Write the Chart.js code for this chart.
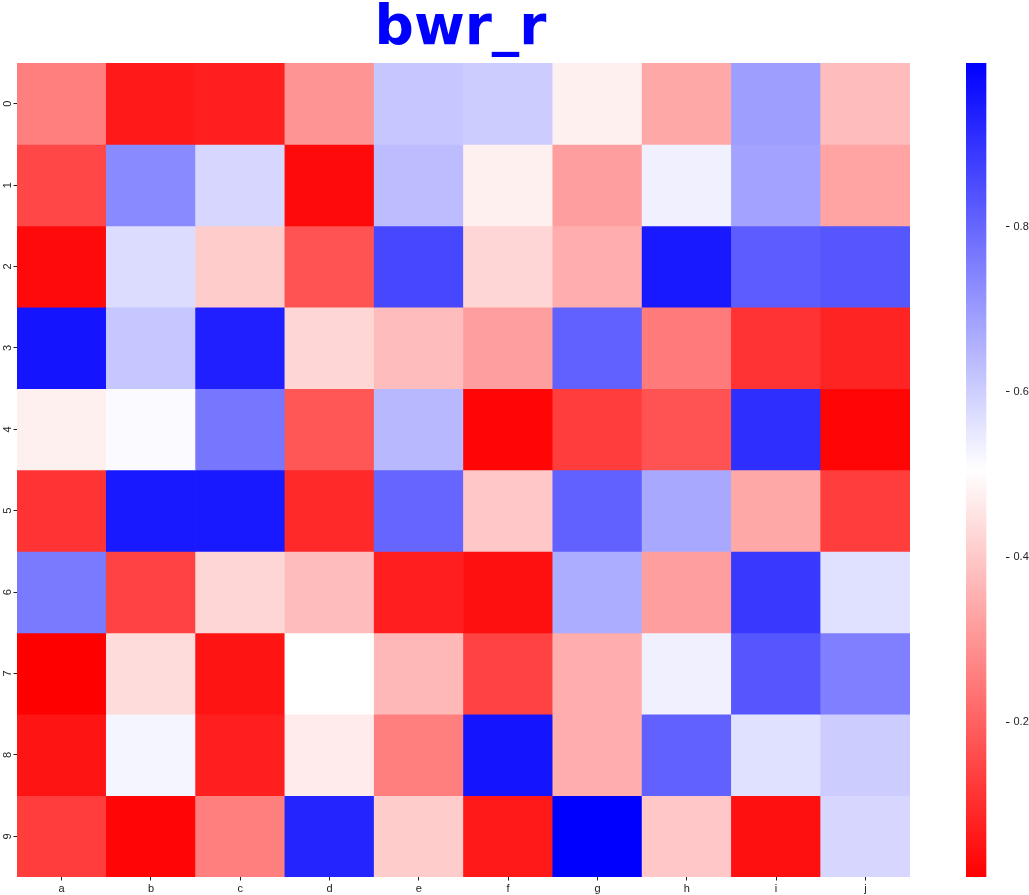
<!DOCTYPE html>
<html>
<head>
<meta charset="utf-8">
<script src="https://cdn.jsdelivr.net/npm/chart.js@4.4.1/dist/chart.umd.min.js"></script>
<style>
  html, body { margin: 0; padding: 0; background: #fff; width: 1029px; height: 895px; overflow: hidden; }
  #main { position: absolute; left: 0; top: 0; }
  #cbar { position: absolute; left: 940px; top: 0; }
</style>
</head>
<body>
<canvas id="main" width="927" height="895"></canvas>
<canvas id="cbar" width="89" height="895"></canvas>
<script>
// ---- data ----
const xLabels = ['a', 'b', 'c', 'd', 'e', 'f', 'g', 'h', 'i', 'j'];
const yLabels = ['0', '1', '2', '3', '4', '5', '6', '7', '8', '9'];
const row0 = [0.259, 0.062, 0.072, 0.299, 0.614, 0.604, 0.476, 0.338, 0.693, 0.377];
const row1 = [0.151, 0.732, 0.584, 0.033, 0.634, 0.476, 0.318, 0.535, 0.683, 0.328];
const row2 = [0.033, 0.574, 0.407, 0.171, 0.860, 0.427, 0.348, 0.949, 0.821, 0.831];
const row3 = [0.959, 0.614, 0.939, 0.427, 0.377, 0.318, 0.811, 0.249, 0.112, 0.082];
const row4 = [0.476, 0.515, 0.771, 0.180, 0.643, 0.023, 0.131, 0.171, 0.909, 0.023];
const row5 = [0.112, 0.949, 0.949, 0.092, 0.801, 0.397, 0.811, 0.673, 0.338, 0.131];
const row6 = [0.762, 0.141, 0.427, 0.377, 0.072, 0.043, 0.663, 0.318, 0.890, 0.565];
const row7 = [0.013, 0.437, 0.052, 0.506, 0.368, 0.141, 0.348, 0.535, 0.831, 0.752];
const row8 = [0.052, 0.525, 0.072, 0.466, 0.259, 0.959, 0.348, 0.811, 0.565, 0.604];
const row9 = [0.131, 0.023, 0.259, 0.929, 0.407, 0.062, 0.998, 0.397, 0.043, 0.584];
const rows = [row0, row1, row2, row3, row4, row5, row6, row7, row8, row9];
const colorbarTicks = [0.2, 0.4, 0.6, 0.8];
const titleText = 'bwr_r';

// ---- colormap (bwr_r) ----
const allVals = rows.flat();
const vmin = Math.min(...allVals);
const vmax = Math.max(...allVals);
function bwr_r(v) {
  let t = (v - vmin) / (vmax - vmin);
  t = Math.max(0, Math.min(1, t));
  if (t < 0.5) {
    const c = Math.round(510 * t);
    return `rgb(255,${c},${c})`;
  } else {
    const c = Math.round(255 * (2 - 2 * t));
    return `rgb(${c},${c},255)`;
  }
}

Chart.defaults.font.family = "'Liberation Sans', Arial, sans-serif";
Chart.defaults.color = '#222';

// ---- heatmap ----
const datasets = rows.map((vals, i) => ({
  label: yLabels[i],
  data: vals.map(() => [i, i + 1]),
  backgroundColor: vals.map(v => bwr_r(v)),
  borderWidth: 0,
  grouped: false,
  barPercentage: 1.0,
  categoryPercentage: 1.0,
}));

// center the title over the plotting area
const titleOverPlot = {
  id: 'titleOverPlot',
  afterLayout(chart) {
    if (chart.titleBlock) {
      chart.titleBlock.left = chart.chartArea.left - 6;
      chart.titleBlock.right = chart.chartArea.right;
    }
  },
};

new Chart(document.getElementById('main'), {
  type: 'bar',
  data: { labels: xLabels, datasets },
  plugins: [titleOverPlot],
  options: {
    responsive: false,
    animation: false,
    layout: { padding: { left: 0, right: 17, top: 0, bottom: 0 } },
    plugins: {
      legend: { display: false },
      tooltip: { enabled: false },
      title: {
        display: true,
        text: titleText,
        color: '#0000ff',
        font: { size: 55, weight: 'bold', family: "'DejaVu Sans', sans-serif", lineHeight: 1.0 },
        padding: { top: 2, bottom: 6 },
      },
    },
    scales: {
      x: {
        type: 'category',
        offset: true,
        border: { display: false },
        grid: { drawOnChartArea: false, drawTicks: true, tickLength: 3.5, color: '#222', offset: false },
        ticks: { font: { size: 11 }, padding: 2, maxRotation: 0, minRotation: 0 },
        afterFit: (s) => { s.height = 18; },
      },
      y: {
        type: 'linear',
        min: 0,
        max: 10,
        reverse: true,
        border: { display: false },
        grid: { drawOnChartArea: false, drawTicks: true, tickLength: 3.5, color: '#222' },
        afterBuildTicks: (s) => { s.ticks = yLabels.map((l, i) => ({ value: i + 0.5 })); },
        ticks: {
          font: { size: 11 },
          padding: 6,
          minRotation: 90,
          maxRotation: 90,
          labelOffset: -3,
          callback: (val) => yLabels[Math.floor(val)],
        },
        afterFit: (s) => { s.width = 17; },
      },
    },
  },
});

// ---- colorbar ----
new Chart(document.getElementById('cbar'), {
  type: 'bar',
  data: {
    labels: [''],
    datasets: [{
      data: [[vmin, vmax]],
      borderWidth: 0,
      barPercentage: 1.0,
      categoryPercentage: 1.0,
      backgroundColor: (ctx) => {
        const chart = ctx.chart;
        const ca = chart.chartArea;
        if (!ca) return 'white';
        const g = chart.ctx.createLinearGradient(0, ca.bottom, 0, ca.top);
        g.addColorStop(0, 'rgb(255,0,0)');
        g.addColorStop(0.5, 'rgb(255,255,255)');
        g.addColorStop(1, 'rgb(0,0,255)');
        return g;
      },
    }],
  },
  options: {
    responsive: false,
    animation: false,
    layout: { padding: { left: 26, right: 0, top: 63, bottom: 18 } },
    plugins: { legend: { display: false }, tooltip: { enabled: false }, title: { display: false } },
    scales: {
      x: { display: false, offset: false },
      y: {
        type: 'linear',
        position: 'right',
        min: vmin,
        max: vmax,
        border: { display: false },
        grid: { drawOnChartArea: false, drawTicks: true, tickLength: 3.5, color: '#222' },
        afterBuildTicks: (s) => { s.ticks = colorbarTicks.map(v => ({ value: v })); },
        ticks: { font: { size: 11 }, padding: 4, callback: (v) => v.toFixed(1) },
        afterFit: (s) => { s.width = 23; },
      },
    },
  },
});
</script>
</body>
</html>
